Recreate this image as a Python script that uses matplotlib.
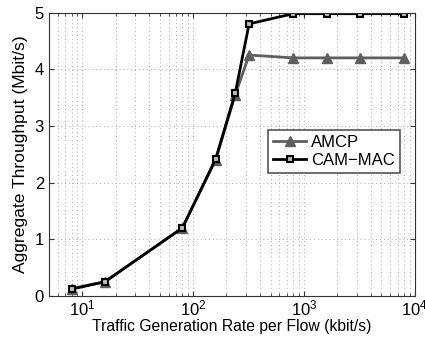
import matplotlib
matplotlib.use('Agg')
import matplotlib.pyplot as plt
from matplotlib.ticker import LogLocator, NullFormatter

rate = [8, 16, 80, 160, 240, 320, 800, 1600, 3200, 8000]
amcp = [0.13, 0.25, 1.2, 2.4, 3.55, 4.25, 4.2, 4.2, 4.2, 4.2]
cam_mac = [0.12, 0.25, 1.2, 2.42, 3.58, 4.8, 4.98, 4.98, 4.98, 4.98]

plt.rcParams['font.family'] = ['Liberation Sans', 'DejaVu Sans']
plt.rcParams['xtick.direction'] = 'in'
plt.rcParams['ytick.direction'] = 'in'

fig = plt.figure(figsize=(4.25, 3.39), dpi=100)
ax = fig.add_axes([0.115, 0.127, 0.861, 0.836])

ax.plot(rate, amcp, '-^', color='#5f5f5f', lw=2, ms=7.5, mfc='#5f5f5f', mec='#5f5f5f', label='AMCP')
ax.plot(rate, cam_mac, '-s', color='black', lw=2, ms=5, mfc='#bbbbbb', mec='black', mew=1.5, label='CAM\u2212MAC')

ax.set_xscale('log')
ax.set_xlim(5, 1e4)
ax.set_ylim(0, 5)
ax.set_yticks([0, 1, 2, 3, 4, 5])
ax.xaxis.set_minor_locator(LogLocator(base=10, subs=range(2, 10)))
ax.xaxis.set_minor_formatter(NullFormatter())
ax.tick_params(which='both', top=True, right=True, labelsize=12, color='#333333')
ax.tick_params(axis='x', which='major', pad=2)
for s in ax.spines.values():
    s.set_color('#333333')
ax.grid(which='major', color='#aaaaaa', linestyle=(0, (1, 3)), lw=0.7)
ax.grid(which='minor', axis='x', color='#aaaaaa', linestyle=(0, (1, 3)), lw=0.7)

ax.set_xlabel('Traffic Generation Rate per Flow (kbit/s)', fontsize=11.3, labelpad=0)
ax.set_ylabel('Aggregate Throughput (Mbit/s)', fontsize=12.6, labelpad=5)

leg = ax.legend(loc='center right', bbox_to_anchor=(0.96, 0.51), borderaxespad=0,
                fontsize=12, fancybox=False, framealpha=1, edgecolor='#555555',
                handlelength=2.0, handletextpad=0.3, borderpad=0.3, labelspacing=0.2)
leg.get_frame().set_linewidth(1.2)

fig.savefig('out.png', dpi=100)
